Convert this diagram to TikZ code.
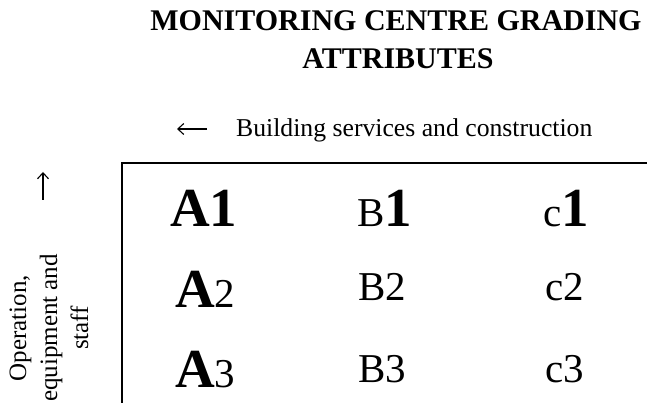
\documentclass[tikz,border=0pt]{standalone}
\usepackage{fontspec}
\setmainfont{Liberation Serif}
\usetikzlibrary{arrows.meta}

\tikzset{
  txt/.style={inner sep=0pt, anchor=base west},
  bigcell/.style={txt, font=\fontsize{55}{60}\selectfont\bfseries},
  cell/.style={txt, font=\fontsize{41}{46}\selectfont},
  sidearrow/.style={-{Straight Barb[length=6pt,width=11pt]}, line width=1.1pt}
}
\newcommand{\bigone}{{\fontsize{55}{60}\selectfont\bfseries 1}}
\newcommand{\bigA}{{\fontsize{55}{60}\selectfont\bfseries A}}

\begin{document}
\begin{tikzpicture}[x=1pt, y=-1pt]
\useasboundingbox (0,0) rectangle (647,403);
% Title
\node[inner sep=0pt, anchor=base, font=\fontsize{30}{38}\selectfont\bfseries] (title1) at (396,31) {MONITORING CENTRE GRADING};
\node[inner sep=0pt, anchor=base, font=\fontsize{30}{38}\selectfont\bfseries] (title2) at (398,69) {ATTRIBUTES};

% Horizontal axis label
\coordinate (harrowtail) at (207,129);
\coordinate (harrowhead) at (177,129);
\draw[sidearrow] (harrowtail) -- (harrowhead);
\node[txt, font=\fontsize{25.7}{30}\selectfont] (hlabel) at (236,137) {Building services and construction};

% Vertical axis label
\coordinate (varrowtail) at (43,200);
\coordinate (varrowhead) at (43,172);
\draw[sidearrow] (varrowtail) -- (varrowhead);
\node[inner sep=0pt, rotate=90, align=center, font=\fontsize{25}{31}\selectfont] (vlabel) at (49,328) {Operation,\\equipment and\\staff};

% Frame
\draw[line width=2.6pt] (647,163) -- (122,163) -- (122,403);

% Grades
\node[bigcell] (a1) at (170,226) {A1};
\node[cell] (b1) at (357,226) {B\bigone};
\node[cell] (c1) at (543,226) {c\bigone};

\node[cell] (a2) at (175,307) {\bigA 2};
\node[cell] (b2) at (358,300) {B2};
\node[cell] (c2) at (545,300) {c2};

\node[cell] (a3) at (175,387) {\bigA 3};
\node[cell] (b3) at (358,382) {B3};
\node[cell] (c3) at (545,382) {c3};
\end{tikzpicture}
\end{document}
